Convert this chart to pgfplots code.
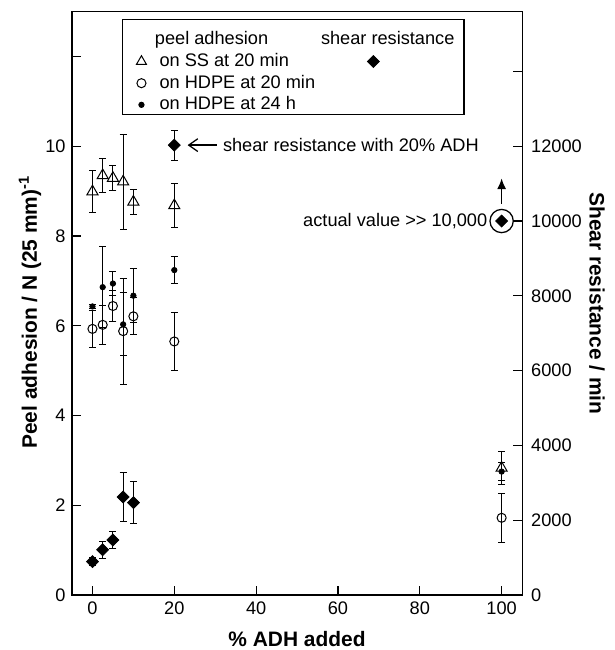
\documentclass[border=0pt]{standalone}
\usepackage{fontspec}
\setmainfont{Liberation Sans}
\usepackage{pgfplots}
\pgfplotsset{compat=1.18}
\usetikzlibrary{arrows.meta}
\pgfplotsset{
  limg/.style={legend image code/.code={\path (0cm,0cm) (0.44cm,0cm); \draw[##1] plot coordinates {(0.14cm,0cm)};}},
  dimg/.style={legend image code/.code={\path (0cm,0cm) (0.05cm,0cm); \draw[overlay,##1] plot coordinates {(1.11cm,0cm)};}},
  common/.style={
    scale only axis, width=247.5pt, height=320.8pt,
    xmin=-5, xmax=105,
    tick align=inside, major tick length=5pt,
    axis line style={line width=0.6pt, black},
    tick style={line width=0.6pt, black},
    tick label style={font=\fontsize{10}{12}\selectfont},
    label style={font=\bfseries\fontsize{11.5}{14}\selectfont},
  },
  ebar/.style={error bars/.cd, y dir=both, y explicit,
    error bar style={line width=0.55pt, black},
    error mark options={rotate=90, mark size=1.9pt, line width=0.55pt, black}},
}
\begin{document}
\begin{tikzpicture}
\begin{axis}[common,
  ymin=0, ymax=13,
  xtick={0,20,40,60,80,100}, xticklabels={0,20,40,60,80,100},
  ytick={0,2,4,6,8,10,12}, yticklabels={0,2,4,6,8,10,{}},
  xtick pos=bottom, ytick pos=left,
  xlabel={\% ADH added},
  ylabel={Peel adhesion / N (25 mm)\textsuperscript{-1}},
  xlabel style={at={([yshift=-24.4pt]rel axis cs:0.5,0)}, anchor=center, inner sep=1pt},
  ylabel style={at={([xshift=-23.1pt]rel axis cs:0,0.485)}, anchor=center},
  legend columns=2, legend cell align=left,
  legend style={draw=none, fill=none, at={(axis cs:8.69,12.70)}, anchor=north west,
    font=\fontsize{10}{12}\selectfont,
    nodes={inner sep=1.2pt, text height=7.4pt, text depth=2.1pt},
    /tikz/column 2/.style={column sep=-1pt}},
]
% peel adhesion on SS at 20 min
\addplot+[forget plot, only marks, black, mark=triangle, mark size=3.5pt,
  mark options={solid, line width=0.55pt, fill=none}, ebar]
  coordinates {
  (0,8.99) +- (0,0.47)
  (2.5,9.35) +- (0,0.38)
  (5,9.29) +- (0,0.27)
  (7.5,9.21) +- (0,1.06)
  (10,8.76) +- (0,0.28)
  (20,8.68) +- (0,0.48)
  (100,2.83) +- (0,0.37)
  };
% peel adhesion on HDPE at 20 min
\addplot+[forget plot, only marks, black, mark=o, mark size=2.5pt,
  mark options={solid, line width=0.55pt, fill=none}, ebar]
  coordinates {
  (0,5.93) +- (0,0.41)
  (2.5,6.02) +- (0,0.44)
  (5,6.44) +- (0,0.34)
  (7.5,5.88) +- (0,1.18)
  (10,6.21) +- (0,0.41)
  (20,5.65) +- (0,0.65)
  (100,1.72) +- (0,0.54)
  };
% peel adhesion on HDPE at 24 h
\addplot+[forget plot, only marks, black, mark=*, mark size=1.5pt,
  mark options={solid, fill=black}, ebar]
  coordinates {
  (0,6.43) +- (0,0.05)
  (2.5,6.86) +- (0,0.90)
  (5,6.94) +- (0,0.26)
  (7.5,6.03) +- (0,0.70)
  (10,6.67) +- (0,0.60)
  (20,7.24) +- (0,0.30)
  (100,2.75) +- (0,0.20)
  };
\addlegendimage{empty legend}\addlegendentry{\hspace*{-2.5pt}peel adhesion}
\addlegendimage{empty legend}\addlegendentry{shear resistance}
\addlegendimage{only marks, black, mark=triangle, mark size=3.2pt, mark options={solid, line width=0.55pt}, limg}\addlegendentry{on SS at 20 min}
\addlegendimage{only marks, black, mark=square*, mark size=2.33pt, mark options={solid, rotate=45, fill=black}, dimg}\addlegendentry{}
\addlegendimage{only marks, black, mark=o, mark size=2.5pt, mark options={solid, line width=0.55pt}, limg}\addlegendentry{on HDPE at 20 min}
\addlegendimage{empty legend}\addlegendentry{}
\addlegendimage{only marks, black, mark=*, mark size=1.5pt, mark options={solid, fill=black}, limg}\addlegendentry{on HDPE at 24 h}
\addlegendimage{empty legend}\addlegendentry{}
\draw[line width=0.6pt] (axis cs:7.39,12.82) rectangle (axis cs:90.8,10.71);
\end{axis}
\begin{axis}[common,
  ymin=0, ymax=15600,
  axis x line=none, axis y line*=right, xtick=\empty,
  ytick={0,2000,4000,6000,8000,10000,12000,14000},
  yticklabels={0,2000,4000,6000,8000,10000,12000,{}},
  yticklabel style={xshift=1.5pt},
  ylabel={Shear resistance / min},
  ylabel style={at={([xshift=41.25pt]rel axis cs:1,0.5)}, anchor=center, rotate=180},
]
\addplot+[forget plot, only marks, black, mark=square*, mark size=2.33pt,
  mark options={solid, rotate=45, fill=black}, ebar]
  coordinates {
  (0,890) +- (0,100)
  (2.5,1210) +- (0,230)
  (5,1470) +- (0,230)
  (7.5,2620) +- (0,660)
  (10,2470) +- (0,560)
  (20,12030) +- (0,400)
  };
\addplot+[forget plot, only marks, black, mark=square*, mark size=2.33pt,
  mark options={solid, rotate=45, fill=black}]
  coordinates {(100,10000)};
\draw[line width=0.7pt] (axis cs:100,10000) circle[radius=6.4pt];
\draw[line width=0.8pt, -{Latex[length=6pt,width=5pt]}] ([yshift=9.4pt]axis cs:100,10000) -- ([yshift=23.5pt]axis cs:100,10000);
\node[anchor=east, inner sep=0pt, font=\fontsize{10}{12}\selectfont] at ([xshift=-7.7pt]axis cs:100,10000) {actual value >\kern0pt> 10,000};
\draw[line width=0.7pt, -{Straight Barb[length=5pt,width=7pt]}] ([xshift=23.3pt]axis cs:20,12030) -- ([xshift=7.3pt]axis cs:20,12030);
\node[anchor=west, inner sep=0pt, font=\fontsize{10}{12}\selectfont] at ([xshift=26.6pt]axis cs:20,12030) {shear resistance with 20\% ADH};
\end{axis}
\pgfresetboundingbox
\path ([shift={(-39.6pt,-30.25pt)}]current axis.south west) rectangle ([shift={(50.6pt,6.4pt)}]current axis.north east);
\end{tikzpicture}
\end{document}
